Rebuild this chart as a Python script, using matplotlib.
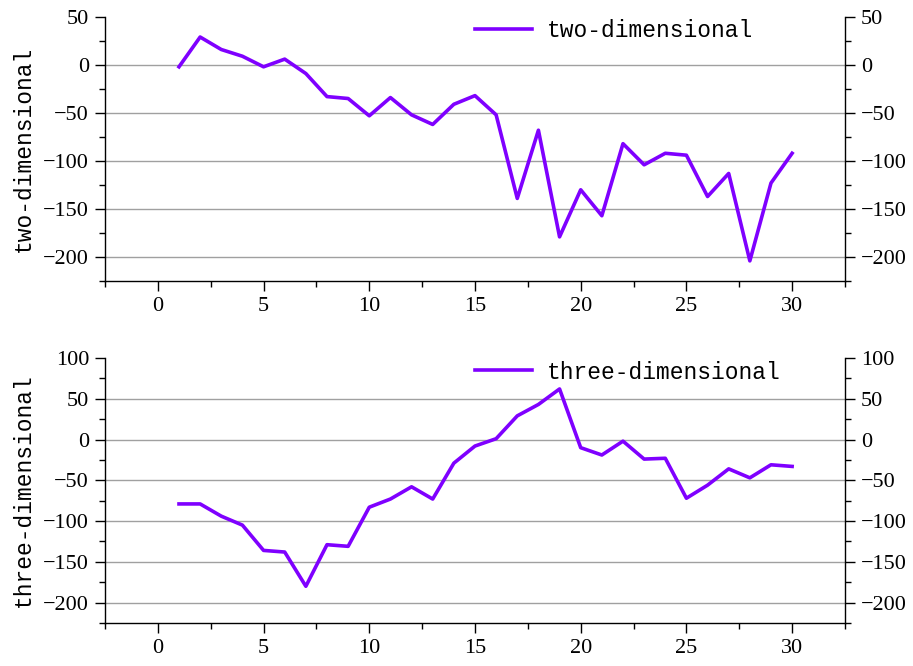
import numpy as np
import matplotlib
matplotlib.use("Agg")
import matplotlib.pyplot as plt
from matplotlib.ticker import MultipleLocator

# step index and the two series
steps = np.arange(1, 31)
two_dim = [-2, 29, 16, 9, -2, 6, -9, -33, -35, -53,
           -34, -52, -62, -41, -32, -52, -139, -68, -179, -130,
           -157, -82, -104, -92, -94, -137, -113, -204, -123, -92]
three_dim = [-79, -79, -94, -105, -136, -138, -180, -129, -131, -83,
             -73, -58, -73, -29, -8, 1, 29, 43, 62, -10,
             -19, -2, -24, -23, -72, -56, -36, -47, -31, -33]

line_color = "#7F00FF"
tick_font = "Liberation Serif"
text_font = "Liberation Mono"

fig = plt.figure(figsize=(9.13, 6.66), dpi=100)
ax1 = fig.add_axes([0.115, 0.578, 0.8105, 0.3967])
ax2 = fig.add_axes([0.115, 0.0646, 0.8105, 0.3979])

panels = [
    (ax1, two_dim, "two-dimensional", (-225, 50), 0.5),
    (ax2, three_dim, "three-dimensional", (-225, 100), 0.5),
]

for ax, values, name, ylim, leg_x in panels:
    ax.plot(steps, values, color=line_color, linewidth=2.6, label=name)
    ax.set_xlim(-2.5, 32.5)
    ax.set_ylim(*ylim)
    ax.xaxis.set_major_locator(MultipleLocator(5))
    ax.xaxis.set_minor_locator(MultipleLocator(2.5))
    ax.yaxis.set_major_locator(MultipleLocator(50))
    ax.yaxis.set_minor_locator(MultipleLocator(25))
    ax.grid(axis="y", which="major", color="#a0a0a0", linewidth=1)
    ax.set_axisbelow(True)
    ax.spines["top"].set_visible(False)
    for s in ("left", "right", "bottom"):
        ax.spines[s].set_linewidth(1)
    ax.tick_params(which="both", direction="out", left=True, right=True,
                   labelleft=True, labelright=True, bottom=True, top=False)
    ax.tick_params(which="major", length=7.5, width=1, labelsize=16, pad=4)
    ax.tick_params(which="minor", length=4, width=1)
    for lab in ax.get_xticklabels() + ax.get_yticklabels():
        lab.set_fontfamily(tick_font)
    ax.set_ylabel(name, fontsize=16.5, family=text_font, labelpad=6)
    ax.legend(loc="center left", bbox_to_anchor=(leg_x, 0.947), frameon=False,
              borderpad=0, borderaxespad=0, handlelength=2.5, handletextpad=0.65,
              prop={"family": text_font, "size": 16.5})

# no grid line along the top edge of each panel
fig.canvas.draw()
for ax in (ax1, ax2):
    top = ax.get_ylim()[1]
    for tick in ax.yaxis.get_major_ticks():
        if tick.get_loc() >= top - 1e-9:
            tick.gridline.set_visible(False)

fig.savefig("out.png", dpi=100)
